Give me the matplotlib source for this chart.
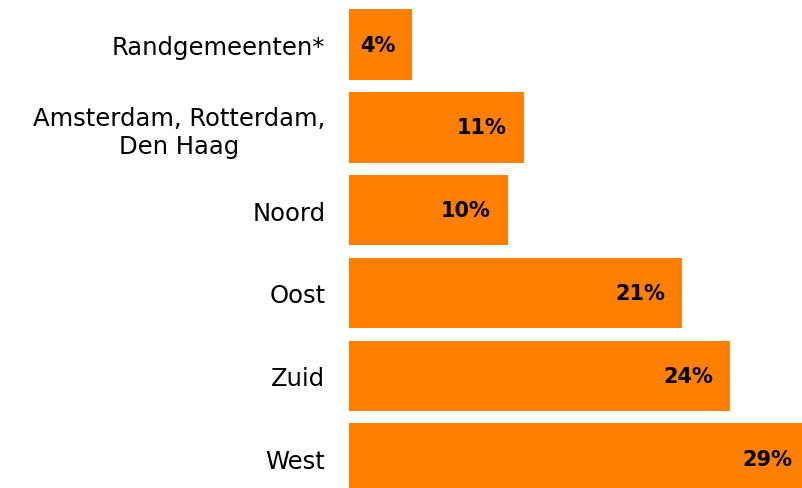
import matplotlib.pyplot as plt

# regio's en aandeel (%)
regions = ['Randgemeenten*', 'Amsterdam, Rotterdam,\nDen Haag', 'Noord', 'Oost', 'Zuid', 'West']
values = [4, 11, 10, 21, 24, 29]


def main():
    fig = plt.figure(figsize=(8.02, 4.89), dpi=100)
    ax = fig.add_axes([349 / 802, 0, 1 - 349 / 802, 1])

    y = list(range(len(regions)))
    ax.barh(y, values, height=0.85, color='#FF7F00')

    ax.set_xlim(0, 28.55)
    ax.set_ylim(5.356, -0.55)

    # value labels inside the bar, near the end
    for yi, v in zip(y, values):
        ax.annotate(f'{v}%', xy=(v, yi), xytext=(-12, 0), textcoords='offset points',
                    ha='right', va='center', fontsize=15, fontweight='bold', color='black',
                    annotation_clip=False)

    ax.set_yticks(y)
    ax.set_yticklabels(regions, fontsize=17.5, multialignment='center', linespacing=1.2)
    ax.tick_params(axis='y', length=0, pad=17)
    ax.set_xticks([])
    for s in ax.spines.values():
        s.set_visible(False)

    fig.savefig('out.png', dpi=100)


if __name__ == "__main__":
    main()
